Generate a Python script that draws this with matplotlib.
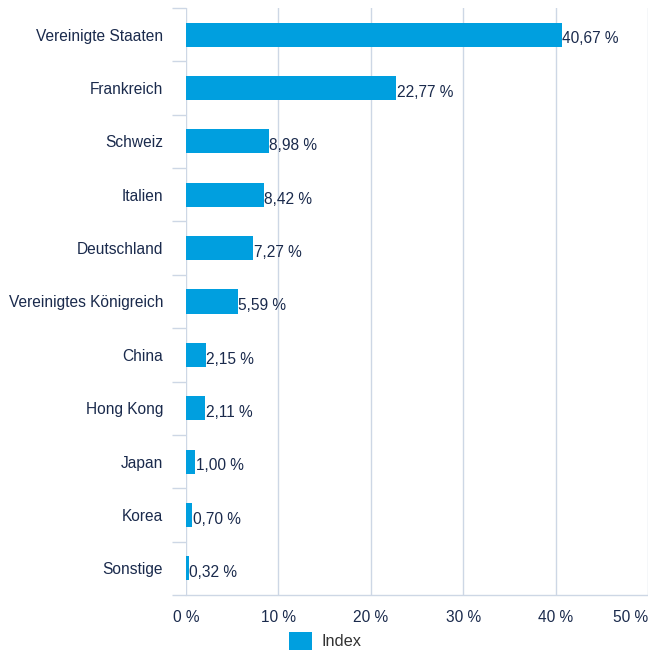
import matplotlib
matplotlib.use("Agg")
import matplotlib.pyplot as plt
from matplotlib.patches import Patch

categories = ["Vereinigte Staaten", "Frankreich", "Schweiz", "Italien", "Deutschland",
              "Vereinigtes Königreich", "China", "Hong Kong", "Japan", "Korea", "Sonstige"]
values = [40.67, 22.77, 8.98, 8.42, 7.27, 5.59, 2.15, 2.11, 1.00, 0.70, 0.32]
xticks = [0, 10, 20, 30, 40, 50]
series_name = "Index"

BAR = "#009fdf"
TXT = "#1a2a4c"
GRID = "#cdd7e5"
FS = 11.2

plt.rcParams['font.family'] = ['Liberation Sans', 'DejaVu Sans']

fig = plt.figure(figsize=(6.48, 6.53), dpi=100)
ax = fig.add_axes([186/648, 1-595/653, 1-186/648, (595-8)/653])

n = len(categories)
ypos = list(range(n))
ax.barh(ypos, values, height=0.45, color=BAR, zorder=3)
for y, v in zip(ypos, values):
    ax.text(v + 0.05, y + 0.08, f"{v:.2f} %".replace(".", ","), va="center", ha="left",
            fontsize=FS, color=TXT, zorder=4)

ax.set_ylim(n - 0.5, -0.5)
ax.set_xlim(0, 50)
ax.set_yticks(ypos)
ax.set_yticklabels(categories, fontsize=FS, color=TXT)
ax.tick_params(axis="y", which="major", length=0, pad=16.5)
ax.set_yticks([i - 0.5 for i in range(n + 1)], minor=True)
ax.tick_params(axis="y", which="minor", length=10, width=1, color=GRID, direction="out")

ax.set_xticks(xticks)
ax.set_xticklabels([f"{t} %" for t in xticks], fontsize=FS, color=TXT)
ax.tick_params(axis="x", length=0, pad=11)
labs = ax.get_xticklabels()
labs[-1].set_horizontalalignment("right")
labs[0].set_horizontalalignment("center")

ax.grid(axis="x", color=GRID, linewidth=1, zorder=0)
for s in ["top", "right", "left"]:
    ax.spines[s].set_visible(False)
ax.spines["bottom"].set_color(GRID)
ax.spines["bottom"].set_linewidth(1)

fig.legend(handles=[Patch(facecolor=BAR, label=series_name)], loc="center",
           bbox_to_anchor=(325/648, 1-641/653), frameon=False, fontsize=11.8,
           handlelength=1.4, handleheight=1.3, handletextpad=0.6,
           labelcolor="#333333")

fig.savefig("out.png", dpi=100)
